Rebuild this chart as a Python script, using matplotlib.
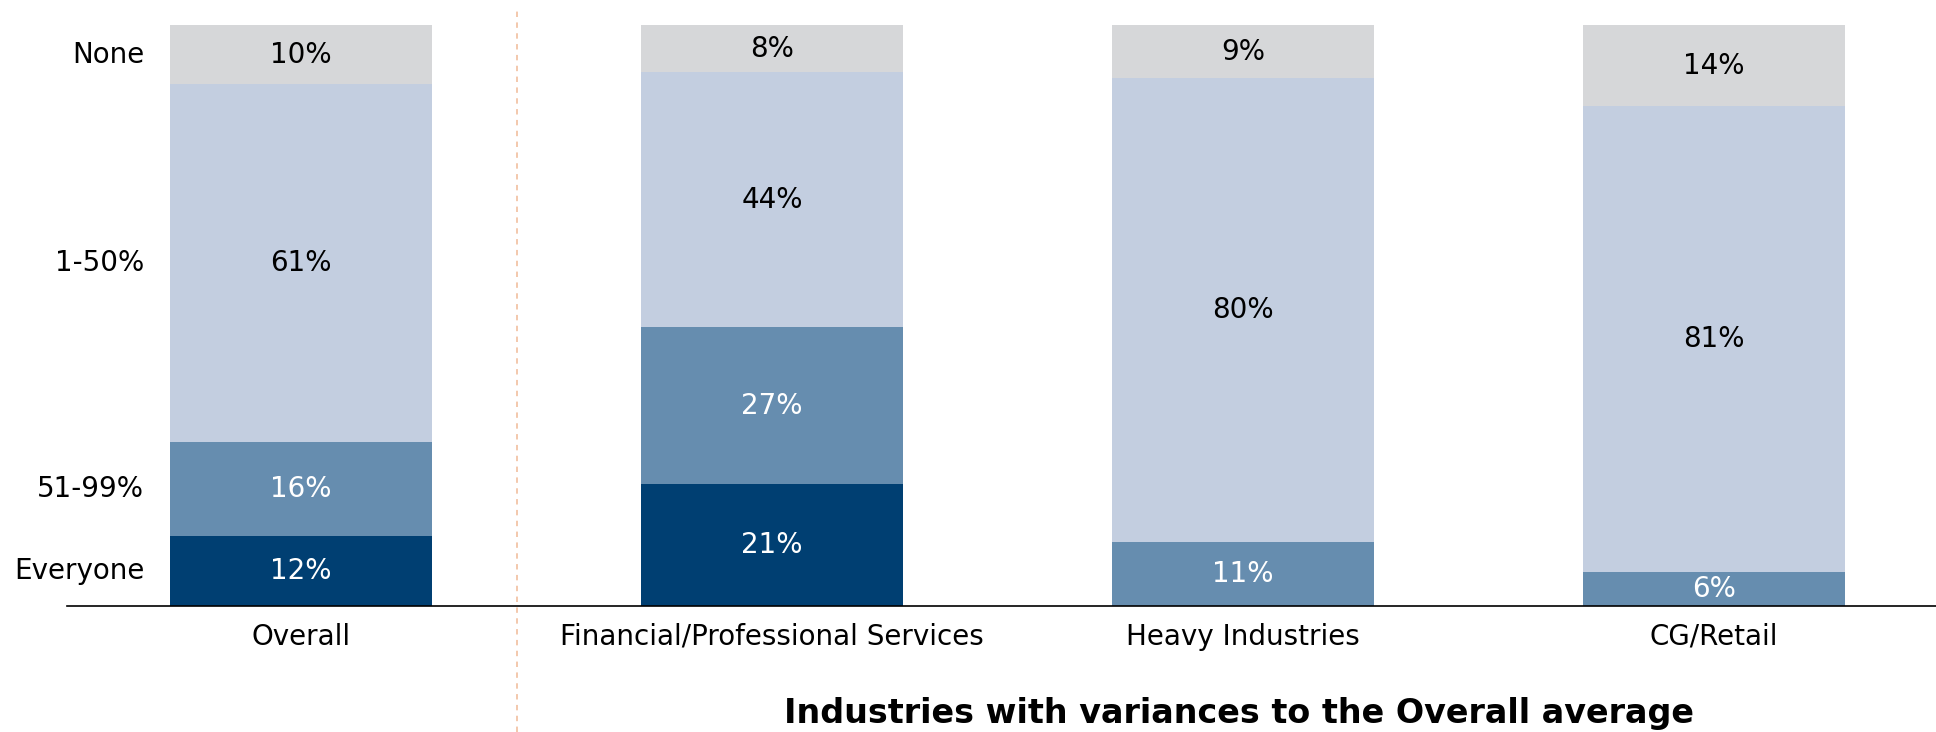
import numpy as np
import matplotlib
matplotlib.use("Agg")
import matplotlib.pyplot as plt

# Data
groups = ["Overall", "Financial/Professional Services", "Heavy Industries", "CG/Retail"]
levels = ["Everyone", "51-99%", "1-50%", "None"]
everyone = [12, 21, 0, 0]
some_most = [16, 27, 11, 6]
some_few = [61, 44, 80, 81]
none = [10, 8, 9, 14]
title = "Industries with variances to the Overall average"

colors = ["#003F72", "#668DAF", "#C3CEE0", "#D6D7D9"]
text_colors = ["white", "white", "black", "black"]

plt.rcParams['font.family'] = ['DejaVu Sans']

series = np.array([everyone, some_most, some_few, none], dtype=float)
# bars are drawn as shares of 100%
shares = series / series.sum(axis=0) * 100

fig = plt.figure(figsize=(19.36, 7.32), dpi=100)
ax = fig.add_axes([67 / 1936, 0.1721, 1 - 67 / 1936, 0.7931])

x = np.arange(len(groups))
bottom = np.zeros(len(groups))
for i in range(len(levels)):
    ax.bar(x, shares[i], width=0.556, bottom=bottom, color=colors[i], linewidth=0)
    for j in range(len(groups)):
        if series[i, j] > 0:
            ax.text(x[j], bottom[j] + shares[i, j] / 2, f"{int(series[i, j])}%",
                    ha="center", va="center", fontsize=20, color=text_colors[i])
    bottom += shares[i]

# category labels on the left, next to the Overall bar segments
cum = np.cumsum(shares[:, 0]) - shares[:, 0] / 2
for lab, yc in zip(levels, cum):
    ax.text(-0.333, yc, lab, ha="right", va="center", fontsize=20, color="black")

ax.set_xlim(-0.497, 3.471)
ax.set_ylim(0, 100)
ax.set_xticks(x)
ax.set_xticklabels(groups, fontsize=20)
ax.tick_params(axis="x", length=0, pad=12)
ax.set_yticks([])
for s in ["top", "right", "left"]:
    ax.spines[s].set_visible(False)
ax.spines["bottom"].set_linewidth(1.2)
ax.spines["bottom"].set_color("black")

# separator between overall and industries
ax.axvline(0.4586, ymin=-0.217, ymax=1.032, color="#F2C4A6", linewidth=1.3,
           linestyle=(0, (3, 3)), clip_on=False)

fig.text(1239 / 1936, (732 - 714) / 732, title, ha="center", va="center",
         fontsize=24, fontweight="bold")

fig.savefig("out.png", dpi=100)
